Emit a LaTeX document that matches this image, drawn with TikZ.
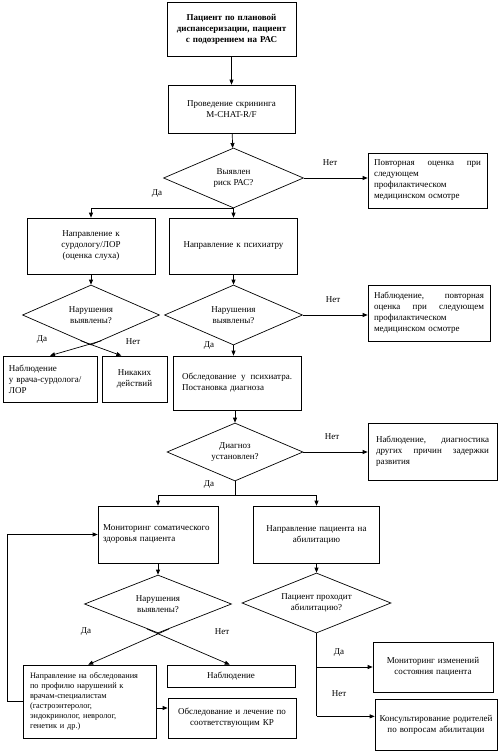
\documentclass[tikz,border=0pt]{standalone}
\usepackage{fontspec}
\setmainfont{Liberation Serif}
\usetikzlibrary{shapes.geometric,arrows.meta,calc}
\newcommand{\fn}{\fontsize{9}{11}\selectfont}
\newcommand{\fsm}{\fontsize{8.3}{9.9}\selectfont}
\newcommand{\spr}[1]{\noindent\hbox to \hsize{#1}}
\begin{document}
\begin{tikzpicture}[x=1pt,y=-1pt,
  box/.style={draw, rectangle, line width=0.7pt, inner xsep=6pt, inner ysep=0pt, font=\fn, align=center},
  lbox/.style={box, align=left},
  dia/.style={draw, diamond, aspect=2.4, line width=0.7pt, inner sep=0pt, font=\fn, align=center},
  arr/.style={line width=0.7pt, -{Triangle[length=5pt,width=4pt]}},
  ln/.style={line width=0.7pt},
  lbl/.style={font=\fn, inner sep=0pt}]
\useasboundingbox (0,0) rectangle (500,752);
\fill[white] (0,0) rectangle (500,752);

% nodes
\node[box, font=\fn\bfseries, text width=117pt, minimum height=54pt] (b1) at (231.5,29) {Пациент по плановой\\диспансеризации, пациент\\с подозрением на РАС};
\node[box, text width=115pt, minimum height=48pt] (b2) at (231.5,109) {Проведение скрининга\\M-CHAT-R/F};
\node[dia, minimum width=140pt, minimum height=60pt] (d1) at (233.5,178) {Выявлен\\риск РАС?};
\node[lbox, text width=107pt, minimum height=55pt] (r1) at (427.5,180.5) {\spr{Повторная\hfil оценка\hfil при}\\следующем\\профилактическом\\медицинском осмотре};

\node[box, text width=116pt, minimum height=56pt] (surdo) at (91,246) {Направление к\\сурдологу/ЛОР\\(оценка слуха)};
\node[box, text width=116pt, minimum height=56pt] (psy) at (233.5,246) {Направление к психиатру};

\node[dia, minimum width=137pt, minimum height=60pt] (d2) at (91,315) {Нарушения\\выявлены?};
\node[dia, minimum width=138pt, minimum height=60pt] (d3) at (233.5,315) {Нарушения\\выявлены?};
\node[lbox, text width=110pt, minimum height=56pt] (r2) at (429,313) {\spr{Наблюдение,\hfil повторная}\\\spr{оценка\hfil при\hfil следующем}\\профилактическом\\медицинском осмотре};

\node[lbox, text width=82pt, minimum height=46pt] (ns) at (50,379) {Наблюдение\\у врача-сурдолога/\\ЛОР};
\node[box, inner xsep=2pt, text width=61pt, minimum height=46pt] (none) at (134.5,379) {Никаких\\действий};
\node[lbox, inner xsep=9pt, text width=110pt, minimum height=54pt] (obsl) at (237,383) {\spr{Обследование\hfil у\hfil психиатра.}\\Постановка диагноза};

\node[dia, minimum width=136pt, minimum height=58pt] (d4) at (235,452) {Диагноз\\установлен?};
\node[lbox, inner xsep=8pt, text width=113pt, minimum height=57pt] (r3) at (432.5,451.5) {\spr{Наблюдение,\hfil диагностика}\\\spr{других\hfil причин\hfil задержки}\\развития};

\node[lbox, inner xsep=5pt, text width=110pt, minimum height=57pt] (mon) at (158,534.5) {Мониторинг соматического\\здоровья пациента};
\node[box, text width=114pt, minimum height=57pt] (abil) at (316.5,534.5) {Направление пациента на\\абилитацию};

\node[dia, minimum width=147pt, minimum height=58pt] (d5) at (158,604) {Нарушения\\выявлены?};
\node[dia, minimum width=149pt, minimum height=60pt] (d6) at (316.5,603) {Пациент проходит\\абилитацию?};

\node[lbox, font=\fsm, inner xsep=7pt, text width=119pt, minimum height=73pt] (napr) at (89.5,701.5) {Направление на обследования\\по профилю нарушений к\\врачам-специалистам\\(гастроэнтеролог,\\эндокринолог, невролог,\\генетик и др.)};
\node[box, text width=116pt, minimum height=22pt] (nabl) at (231,676) {Наблюдение};
\node[box, text width=116pt, minimum height=40pt] (treat) at (232,718) {Обследование и лечение по\\соответствующим КР};

\node[box, text width=108pt, minimum height=50pt] (monch) at (433,667) {Мониторинг изменений\\состояния пациента};
\node[box, inner xsep=1pt, text width=120pt, minimum height=51pt] (cons) at (436,724.5) {Консультирование родителей\\по вопросам абилитации};

% connectors
\draw[arr] (b1) -- (b2);
\draw[arr] (b2) -- (d1);
\draw[arr] (d1.east) -- (d1.east -| r1.west);
\draw[arr] (d1.south) -| (surdo.north);
\draw[arr] (d1.south) -- (psy.north);
\draw[arr] (surdo) -- (d2);
\draw[arr] (psy) -- (d3);
\draw[arr] ($(d2.south)!0.15!(d2.east)$) -- (ns.north);
\draw[arr] ($(d2.south)!0.15!(d2.west)$) -- ($(none.north west)!0.3!(none.north east)$);
\draw[arr] (d3.east) -- (d3.east -| r2.west);
\draw[arr] (d3.south) -- (d3.south |- obsl.north);
\draw[arr] (d4.north |- obsl.south) -- (d4.north);
\draw[arr] (d4.east) -- (d4.east -| r3.west);
\coordinate (j) at ($(d4.south)+(0,14)$);
\draw[ln] (d4.south) -- (j);
\draw[arr] (j) -| (mon.north);
\draw[arr] (j) -| (abil.north);
\draw[arr] (mon) -- (d5);
\draw[arr] (abil) -- (d6);
\draw[arr] ($(d5.south)!0.15!(d5.east)$) -- ($(napr.north west)!0.49!(napr.north east)$);
\draw[arr] ($(d5.south)!0.15!(d5.west)$) -- ($(nabl.north west)!0.49!(nabl.north east)$);
\coordinate (ne) at ($(napr.east)+(0,6.5)$);
\draw[arr] (ne) -- (ne -| treat.west);
\draw[arr] (napr.west) -- ++(-15,0) |- (mon.west);
\coordinate (k2) at ($(d6.south)+(0,83)$);
\draw[ln] (d6.south) -- (k2);
\draw[arr] (k2) -- (k2 -| cons.west);
\draw[arr] (d6.south |- monch.west) -- (monch.west);

% labels
\node[lbl] (l1) at (330,163) {Нет};
\node[lbl] (l2) at (157,194) {Да};
\node[lbl] (l3) at (42,340) {Да};
\node[lbl] (l4) at (133,342) {Нет};
\node[lbl] (l5) at (333,300) {Нет};
\node[lbl] (l6) at (209,346) {Да};
\node[lbl] (l7) at (332,437) {Нет};
\node[lbl] (l8) at (209,485) {Да};
\node[lbl] (l9) at (86,632) {Да};
\node[lbl] (l10) at (222,632) {Нет};
\node[lbl] (l11) at (339,653) {Да};
\node[lbl] (l12) at (339,694) {Нет};
\end{tikzpicture}
\end{document}
